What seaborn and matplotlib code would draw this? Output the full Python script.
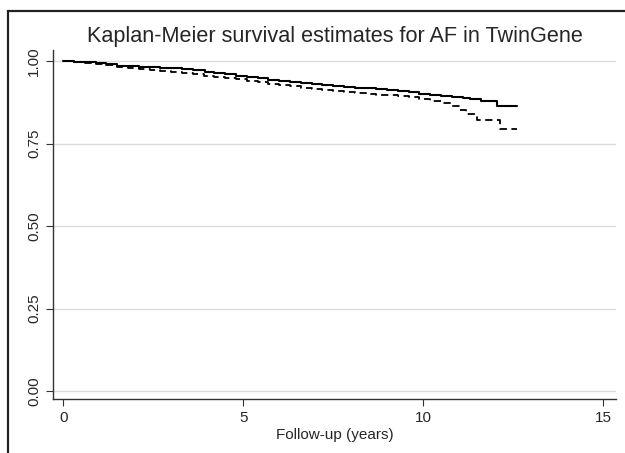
import matplotlib
matplotlib.use("Agg")
import matplotlib.pyplot as plt
from matplotlib.patches import Rectangle
import seaborn as sns
import pandas as pd

# Kaplan-Meier step values
t_solid = [0, 0.3, 0.6, 0.9, 1.2, 1.5, 1.8, 2.1, 2.4, 2.7, 3.0, 3.3, 3.6, 3.85, 3.95,
           4.2, 4.5, 4.8, 5.1, 5.4, 5.7, 6.0, 6.3, 6.6, 6.9, 7.2, 7.5, 7.8, 8.1, 8.4,
           8.7, 9.0, 9.3, 9.6, 9.9, 10.2, 10.5, 10.8, 11.1, 11.3, 11.6, 12.05, 12.6]
s_solid = [1.0, 0.999, 0.997, 0.994, 0.990, 0.986, 0.985, 0.983, 0.982, 0.980, 0.978,
           0.976, 0.974, 0.972, 0.967, 0.964, 0.960, 0.956, 0.952, 0.948, 0.944, 0.940,
           0.937, 0.933, 0.930, 0.927, 0.925, 0.922, 0.920, 0.918, 0.915, 0.913, 0.911,
           0.907, 0.902, 0.898, 0.895, 0.892, 0.888, 0.885, 0.879, 0.865, 0.865]

t_dash = [0, 0.3, 0.6, 0.9, 1.2, 1.5, 1.8, 2.1, 2.4, 2.7, 3.0, 3.3, 3.6, 3.9, 4.2,
          4.5, 4.8, 5.1, 5.4, 5.7, 6.0, 6.3, 6.6, 6.9, 7.2, 7.5, 7.8, 8.1, 8.4, 8.7,
          9.0, 9.3, 9.6, 9.9, 10.2, 10.5, 10.8, 11.0, 11.2, 11.5, 12.15, 12.6]
s_dash = [1.0, 0.998, 0.995, 0.991, 0.987, 0.983, 0.980, 0.976, 0.974, 0.971, 0.968,
          0.965, 0.961, 0.956, 0.953, 0.949, 0.945, 0.941, 0.937, 0.932, 0.928, 0.924,
          0.920, 0.916, 0.912, 0.909, 0.906, 0.903, 0.901, 0.898, 0.896, 0.894, 0.890,
          0.885, 0.880, 0.872, 0.864, 0.852, 0.840, 0.822, 0.795, 0.795]

x_ticks = [0, 5, 10, 15]
y_ticks = [0.0, 0.25, 0.5, 0.75, 1.0]

sns.set_style("white")
plt.rcParams['font.family'] = ['Liberation Sans', 'DejaVu Sans']

fig = plt.figure(figsize=(6.25, 4.53), dpi=100)
ax = fig.add_axes([0.085, 0.119, 0.90, 0.77])

df1 = pd.DataFrame({"t": t_solid, "s": s_solid})
df2 = pd.DataFrame({"t": t_dash, "s": s_dash})
sns.lineplot(data=df1, x="t", y="s", ax=ax, color="black", lw=1.5,
             drawstyle="steps-post", sort=False)
sns.lineplot(data=df2, x="t", y="s", ax=ax, color="black", lw=1.3,
             drawstyle="steps-post", sort=False, linestyle=(0, (4, 2.5)))

ax.set_xlim(-0.28, 15.35)
ax.set_ylim(-0.024, 1.033)
ax.set_xticks(x_ticks)
ax.set_yticks(y_ticks)
ax.set_yticklabels(["%.2f" % v for v in y_ticks], rotation=90, va="center")
ax.yaxis.grid(True, color="#dcdcdc", lw=1)
ax.set_axisbelow(True)
for side in ["top", "right"]:
    ax.spines[side].set_visible(False)
for side in ["left", "bottom"]:
    ax.spines[side].set_color("#333333")
    ax.spines[side].set_linewidth(1.0)
ax.tick_params(axis="both", direction="out", length=5, width=0.8, color="#333333",
               labelsize=11, bottom=True, left=True)
ax.set_xlabel("Follow-up (years)", fontsize=11, labelpad=2)
ax.set_ylabel("")
fig.text(0.536, 0.92, "Kaplan-Meier survival estimates for AF in TwinGene",
         ha="center", va="center", fontsize=15.6)

# outer frame (cropped at right and bottom)
fig.patches.append(Rectangle((8 / 625, -0.05), 1.1, 1 - 11 / 453 + 0.05,
                             transform=fig.transFigure, fill=False,
                             edgecolor="#222222", lw=1.6))

fig.savefig("out.png", dpi=100)
